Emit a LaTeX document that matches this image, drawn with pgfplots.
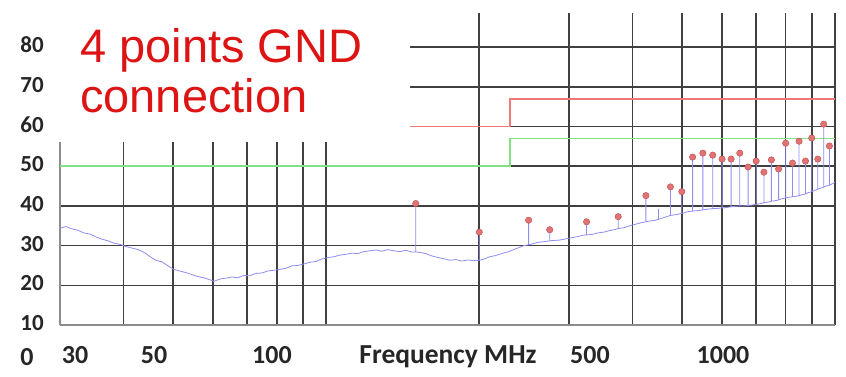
\documentclass[border=0pt]{standalone}
\usepackage{pgfplots}
\usepackage{pgfplotstable}
\pgfplotsset{compat=1.18}
\usepackage{fontspec}
\setmainfont{Carlito}
\newfontfamily\arialfont{Liberation Sans}

\definecolor{gridc}{HTML}{404040}
\definecolor{edgec}{HTML}{8C8C8C}
\definecolor{tracec}{HTML}{8E8EF0}
\definecolor{markf}{HTML}{E07474}
\definecolor{markd}{HTML}{C04848}
\definecolor{limred}{HTML}{F07878}
\definecolor{limgreen}{HTML}{84E084}
\definecolor{titlec}{HTML}{DD1414}
\definecolor{labelc}{HTML}{262626}

% Measured trace (MHz, dBuV/m), spikes drawn as vertical excursions
\pgfplotstableread{
f v
30.0 34.4
30.8 34.8
31.7 34.2
32.5 33.9
33.4 33.2
34.4 32.9
35.3 32.2
36.3 31.6
37.3 31.2
38.3 30.6
39.4 30.3
40.4 29.8
41.5 29.4
42.7 29.0
43.9 28.3
45.1 27.2
46.3 26.3
47.6 25.9
48.9 24.9
50.2 24.0
51.6 23.6
53.0 23.2
54.5 22.7
56.0 22.2
57.5 21.9
59.1 21.4
60.2 21.0
61.9 21.6
63.6 21.8
65.3 22.1
67.1 21.9
68.9 22.5
70.8 22.4
72.8 23.0
74.8 23.1
76.8 23.6
79.0 23.8
81.1 24.0
83.4 24.3
85.7 24.9
88.0 25.0
90.5 25.4
92.9 25.8
95.5 26.0
98.1 26.6
100.8 27.0
103.6 27.2
106.4 27.6
109.4 27.8
112.4 28.1
115.5 28.0
118.6 28.5
121.9 28.7
125.3 28.9
128.7 28.6
132.2 29.0
135.9 28.7
139.6 28.5
143.5 28.8
147.4 28.4
150 28.4
150 40.6
150 28.4
152.8 28.3
157.0 28.0
161.4 27.4
165.8 27.0
170.4 26.7
175.0 26.3
179.9 26.5
184.8 26.1
189.9 26.4
195.1 26.2
200 26.3
200 33.4
200 26.3
204.1 26.6
209.7 27.2
215.5 27.5
221.4 28.0
227.5 28.4
233.8 29.0
240.2 29.6
244.6 30.0
250 30.2
250 36.4
250 30.2
253.6 30.4
260.6 30.8
267.8 31.0
275 31.2
275 34.0
275 31.2
280.1 31.3
287.8 31.4
295.8 31.7
304.1 32.0
312.5 32.3
319.6 32.6
325 32.7
325 36.0
325 32.7
332.9 32.8
342.0 33.2
351.4 33.4
361.1 33.8
371.0 34.1
375 34.3
375 37.3
375 34.3
384.7 34.5
395.3 35.0
406.1 35.4
417.3 35.8
425 36.0
425 42.6
425 36.0
432.7 36.2
444.6 36.4
450 36.6
450 39.2
450 36.6
456.8 36.9
469.3 37.4
475 37.6
475 44.8
475 37.6
486.6 37.8
500 38.1
500 43.6
500 38.1
511.4 38.5
525 38.7
525 52.3
525 38.7
535.1 38.8
550 39.0
550 53.3
550 39.0
562.4 39.2
575 39.3
575 52.8
575 39.3
588.4 39.4
600 39.5
600 51.8
600 39.5
613 39.6
625 39.8
625 51.8
625 39.8
638.2 39.9
650 40.0
650 53.3
650 40.0
661.8 40.0
675 40.1
675 49.8
675 40.1
686.1 40.2
700 40.4
700 51.3
700 40.4
714.6 40.6
725 40.8
725 48.5
725 40.8
740.9 41.0
750 41.2
750 51.6
750 41.2
761.3 41.3
775 41.5
775 49.3
775 41.5
785.8 41.8
800 42.0
800 55.8
800 42.0
811 42.2
825 42.3
825 50.8
825 42.3
837.1 42.4
850 42.6
850 56.3
850 42.6
860.1 42.8
875 43.0
875 51.3
875 43.0
883.8 43.3
900 43.6
900 57.1
900 43.6
912.2 43.9
925 44.2
925 51.8
925 44.2
933.1 44.4
950 44.7
950 60.6
950 44.7
958.8 45.0
975 45.2
975 55.1
975 45.2
985.1 45.5
1000 46.0
}\tracedata

% Peak detector results
\pgfplotstableread{
f v
150 40.6
200 33.4
250 36.4
275 34.0
325 36.0
375 37.3
425 42.6
475 44.8
500 43.6
525 52.3
550 53.3
575 52.8
600 51.8
625 51.8
650 53.3
675 49.8
700 51.3
725 48.5
750 51.6
775 49.3
800 55.8
825 50.8
850 56.3
875 51.3
900 57.1
925 51.8
950 60.6
975 55.1
}\peakdata

\begin{document}
\begin{tikzpicture}
\begin{axis}[
  at={(0pt,0pt)}, anchor=south west,
  scale only axis, width=775pt, height=312pt,
  xmode=log, xmin=30, xmax=1000, ymin=10, ymax=88.6,
  axis line style={draw=none},
  tick style={draw=none},
  major tick length=0pt,
  xtick={40,50,60,70,80,90,100,200,300,400,500,600,700,800,900,1000},
  xticklabel={\mbox{}},
  ytick={10,20,30,40,50,60,70,80},
  yticklabels={10,20,30,40,50,60,70,80},
  yticklabel style={anchor=east, inner sep=0pt, xshift=-16pt, yshift=2pt,
    font=\bfseries\fontsize{23}{23}\selectfont, text=labelc},
  grid=major,
  major grid style={gridc, line width=1.6pt},
  minor grid style={draw=none},
  clip=false,
]
% borders
\draw[edgec, line width=1.6pt] (axis cs:30,10) -- (axis cs:1000,10);
\draw[edgec, line width=1.6pt] (axis cs:30,10) -- (axis cs:30,88.6);
% limit lines
\addplot[limred, line width=1.8pt] coordinates {(30,60) (230,60) (230,67) (1000,67)};
\addplot[limgreen, line width=1.8pt] coordinates {(30,50) (230,50) (230,57) (1000,57)};
% measured trace
\addplot[tracec, line width=0.8pt, line join=round] table[x=f, y=v] {\tracedata};
% peaks
\addplot[only marks, mark=*, mark size=3.2pt,
  mark options={fill=markf, draw=markd, line width=0.4pt}] table[x=f, y=v] {\peakdata};
\end{axis}
% caption panel
\fill[white] (-1pt,183pt) rectangle (350pt,314pt);
\node[anchor=base west, inner sep=0pt, text=titlec,
  font=\arialfont\fontsize{47}{47}\selectfont] at (20pt,263pt) {4 points GND};
\node[anchor=base west, inner sep=0pt, text=titlec,
  font=\arialfont\fontsize{47}{47}\selectfont] at (20pt,213pt) {connection};
% frequency labels
\begin{scope}[every node/.style={anchor=base, inner sep=0pt, text=labelc,
    font=\bfseries\fontsize{26}{26}\selectfont}]
\node at (15pt,-38pt) {30};
\node at (94pt,-38pt) {50};
\node at (212pt,-38pt) {100};
\node[font=\bfseries\fontsize{27.5}{27.5}\selectfont] at (388pt,-38pt) {Frequency MHz};
\node at (530pt,-38pt) {500};
\node at (663pt,-38pt) {1000};
\node at (-33pt,-40pt) {0};
\end{scope}
\pgfresetboundingbox
\path[use as bounding box] (-60pt,-51pt) rectangle (786pt,325pt);
\end{tikzpicture}
\end{document}
